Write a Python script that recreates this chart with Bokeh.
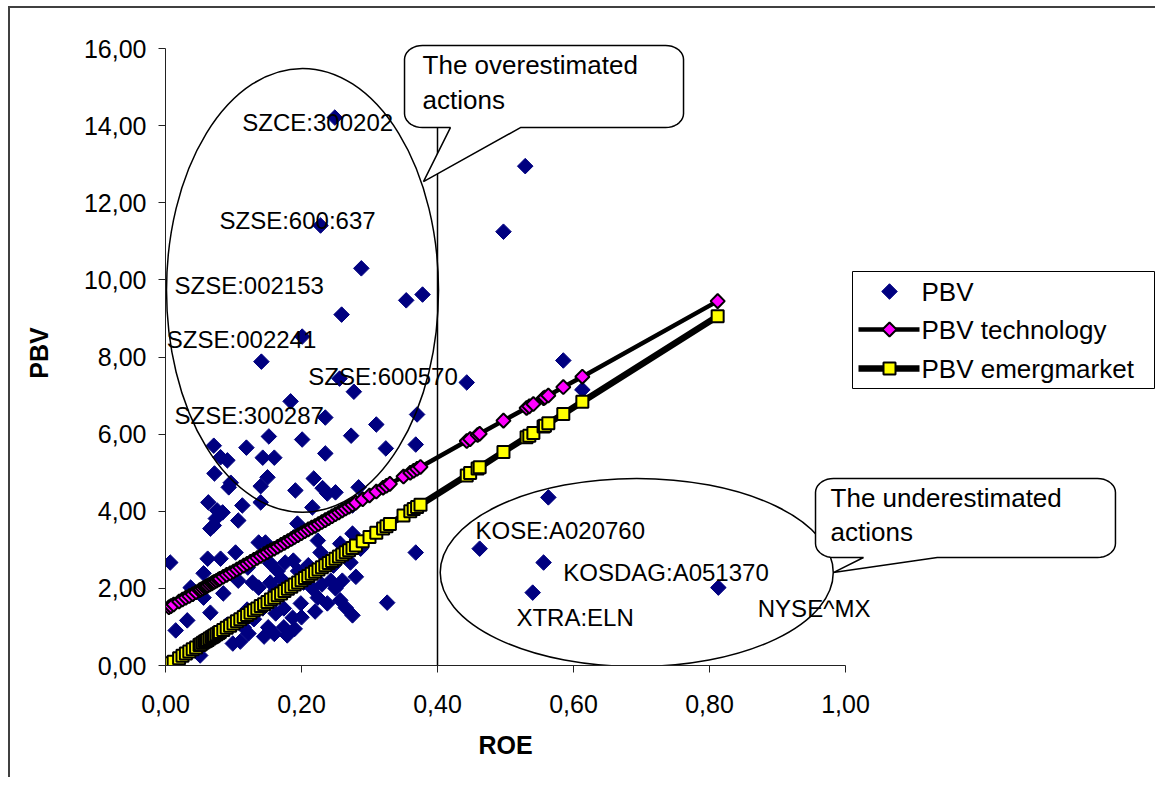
import numpy as np
from bokeh.plotting import figure
from bokeh.models import (Range1d, FixedTicker, CustomJSTickFormatter, Label,
                          PolyAnnotation, Title)
from bokeh.embed import file_html
from bokeh.resources import INLINE

FONT = "Liberation Sans"

# ---------------- data ----------------
roe = [0.249, 0.529, 0.228, 0.497, 0.288, 0.354, 0.378, 0.259, 0.201, 0.141,
       0.585, 0.256, 0.443, 0.277, 0.184, 0.370, 0.235, 0.310, 0.273, 0.368,
       0.324, 0.201, 0.152, 0.119, 0.071, 0.081, 0.091, 0.143, 0.160, 0.235,
       0.072, 0.096, 0.150, 0.140, 0.218, 0.231, 0.250, 0.191, 0.284, 0.063,
       0.076, 0.084, 0.074, 0.071, 0.113, 0.107, 0.140, 0.093, 0.194, 0.216,
       0.238, 0.275, 0.137, 0.147, 0.103, 0.062, 0.081, 0.056, 0.121, 0.154,
       0.176, 0.188, 0.188, 0.224, 0.228, 0.257, 0.257, 0.247, 0.272, 0.275,
       0.287, 0.269, 0.037, 0.041, 0.015, 0.032, 0.056, 0.085, 0.066, 0.107,
       0.128, 0.137, 0.154, 0.162, 0.143, 0.162, 0.174, 0.187, 0.151, 0.174,
       0.179, 0.115, 0.122, 0.106, 0.099, 0.056, 0.047, 0.051, 0.199, 0.224,
       0.238, 0.257, 0.275, 0.265, 0.243, 0.216, 0.203, 0.368, 0.326, 0.563,
       0.462, 0.556, 0.540, 0.813, 0.613, 0.007, 0.066, 0.090, 0.120, 0.130,
       0.165, 0.195, 0.210, 0.220, 0.200, 0.190, 0.160, 0.145, 0.110, 0.170,
       0.230, 0.250, 0.260, 0.280]
pbv = [14.21, 12.95, 11.41, 11.25, 10.30, 9.47, 9.62, 9.10, 8.53, 7.88,
       7.91, 7.44, 7.34, 7.10, 6.85, 6.51, 6.43, 6.25, 5.96, 5.73,
       5.63, 5.86, 5.94, 5.65, 5.70, 5.40, 5.32, 5.39, 5.39, 5.50,
       4.98, 4.74, 4.88, 4.65, 4.85, 4.60, 4.49, 4.54, 4.62, 4.23,
       4.02, 3.97, 3.81, 3.63, 4.15, 3.76, 4.23, 4.62, 3.68, 4.10,
       4.46, 4.15, 3.19, 3.19, 2.93, 2.77, 2.77, 2.39, 2.54, 2.65,
       2.67, 2.72, 3.32, 3.24, 2.93, 2.93, 3.16, 2.59, 2.67, 3.42,
       3.03, 2.93, 2.02, 1.87, 0.91, 1.17, 1.76, 1.87, 1.37, 2.20,
       2.15, 2.02, 2.15, 1.95, 1.48, 1.35, 1.48, 1.24, 0.99, 0.99,
       0.78, 0.99, 0.83, 1.17, 0.57, 0.65, 0.47, 0.26, 1.61, 1.76,
       1.61, 1.69, 1.30, 1.50, 2.20, 2.00, 2.15, 2.93, 1.63, 4.36,
       3.03, 2.67, 1.89, 2.02, 7.15, 2.67, 3.55, 1.05, 1.45, 1.20,
       2.45, 2.45, 2.60, 1.40, 1.25, 0.95, 0.82, 0.75, 0.62, 2.25,
       2.10, 2.00, 2.20, 2.30]

line_roe = [0.005, 0.008, 0.012, 0.020, 0.025, 0.030, 0.035, 0.040, 0.045, 0.050,
            0.052, 0.055, 0.058, 0.060, 0.062, 0.065, 0.068, 0.070, 0.072, 0.075,
            0.078, 0.080, 0.085, 0.090, 0.095, 0.100, 0.105, 0.110, 0.115, 0.120,
            0.125, 0.130, 0.135, 0.140, 0.145, 0.150, 0.155, 0.160, 0.165, 0.170,
            0.175, 0.180, 0.185, 0.190, 0.195, 0.200, 0.205, 0.210, 0.215, 0.220,
            0.225, 0.230, 0.235, 0.240, 0.245, 0.250, 0.255, 0.260, 0.265, 0.270,
            0.275, 0.280, 0.290, 0.300, 0.310, 0.320, 0.325, 0.330, 0.350, 0.360,
            0.365, 0.370, 0.375, 0.443, 0.448, 0.459, 0.462, 0.497, 0.531, 0.535,
            0.541, 0.556, 0.558, 0.563, 0.585, 0.613, 0.812]
pbv_technology = [1.51, 1.54, 1.58, 1.66, 1.71, 1.76, 1.80, 1.85, 1.90, 1.95,
                  1.97, 2.00, 2.03, 2.05, 2.07, 2.10, 2.13, 2.15, 2.17, 2.20,
                  2.23, 2.25, 2.30, 2.35, 2.39, 2.44, 2.49, 2.54, 2.59, 2.64,
                  2.69, 2.74, 2.79, 2.84, 2.89, 2.94, 2.99, 3.03, 3.08, 3.13,
                  3.18, 3.23, 3.28, 3.33, 3.38, 3.43, 3.48, 3.53, 3.58, 3.62,
                  3.67, 3.72, 3.77, 3.82, 3.87, 3.92, 3.97, 4.02, 4.07, 4.12,
                  4.17, 4.22, 4.31, 4.41, 4.51, 4.61, 4.66, 4.71, 4.90, 5.00,
                  5.05, 5.10, 5.15, 5.82, 5.87, 5.98, 6.01, 6.35, 6.68, 6.72,
                  6.78, 6.93, 6.95, 7.00, 7.22, 7.49, 9.45]
pbv_emergmarket = [0.03, 0.06, 0.10, 0.19, 0.25, 0.31, 0.36, 0.42, 0.47, 0.53,
                   0.55, 0.59, 0.62, 0.64, 0.66, 0.70, 0.73, 0.75, 0.78, 0.81,
                   0.84, 0.87, 0.92, 0.98, 1.03, 1.09, 1.15, 1.20, 1.26, 1.31,
                   1.37, 1.43, 1.48, 1.54, 1.59, 1.65, 1.71, 1.76, 1.82, 1.87,
                   1.93, 1.99, 2.04, 2.10, 2.15, 2.21, 2.27, 2.32, 2.38, 2.43,
                   2.49, 2.55, 2.60, 2.66, 2.71, 2.77, 2.83, 2.88, 2.94, 2.99,
                   3.05, 3.11, 3.22, 3.33, 3.44, 3.55, 3.61, 3.67, 3.89, 4.00,
                   4.06, 4.11, 4.17, 4.93, 4.99, 5.11, 5.14, 5.54, 5.92, 5.96,
                   6.03, 6.20, 6.22, 6.28, 6.52, 6.84, 9.06]

series_names = ["PBV", "PBV technology", "PBV emergmarket"]
x_ticks = [0.0, 0.2, 0.4, 0.6, 0.8, 1.0]
y_ticks = [0, 2, 4, 6, 8, 10, 12, 14, 16]
roe_threshold = 0.40

point_labels = ["SZCE:300202", "SZSE:600:637", "SZSE:002153", "SZSE:002241",
                "SZSE:600570", "SZSE:300287", "KOSE:A020760", "KOSDAG:A051370",
                "XTRA:ELN", "NYSE^MX"]
callout_texts = [["The overestimated", "actions"], ["The underestimated", "actions"]]

# ---------------- layout / placement of annotations ----------------
PX_X = 680.0    # pixels per ROE unit
PX_Y = 38.56    # pixels per PBV unit
FRAME_W = 990
FRAME_H = 625
FRAME_LEFT = 165   # page pixel of ROE = 0
FRAME_BOTTOM = 665  # page pixel of PBV = 0
TEXT_SHIFT = 9 / PX_Y  # raise labels so their caps sit where intended


def dx(px):
    """page pixel column -> ROE units (for annotation placement)"""
    return (px - FRAME_LEFT) / PX_X


def dy(py):
    """page pixel row -> PBV units (for annotation placement)"""
    return (FRAME_BOTTOM - py) / PX_Y


label_pos = [(0.113, 13.86), (0.0794, 11.32), (0.0132, 9.63), (0.002, 8.22),
             (0.210, 7.25), (0.0132, 6.25), (0.456, 3.28), (0.585, 2.19),
             (0.516, 1.01), (0.871, 1.245)]
ellipses = [dict(x=0.2015, y=9.73, w=0.40, h=11.51),
            dict(x=0.693, y=2.41, w=0.578, h=4.88)]
callouts = [dict(x0=0.3515, x1=0.7618, y0=13.95, y1=16.08, bx0=0.419, bx1=0.522,
                 tx=0.3794, ty=12.55, text_x=0.378, text_y=[15.33, 14.445]),
            dict(x0=0.9559, x1=1.397, y0=2.80, y1=4.85, bx0=1.0265, bx1=1.135,
                 tx=0.982, ty=2.41, text_x=0.978, text_y=[4.10, 3.24])]

p = figure(frame_width=FRAME_W, frame_height=FRAME_H,
           min_border_left=155, min_border_top=32, min_border_bottom=112,
           min_border_right=0,
           x_range=Range1d(0, FRAME_W / PX_X), y_range=Range1d(0, FRAME_H / PX_Y),
           output_backend="svg", toolbar_location=None,
           background_fill_color="white", border_fill_color="white",
           outline_line_color=None)
p.styles = {"margin-left": "8px", "margin-top": "6px",
            "border-left": "2px solid #404040", "border-top": "2px solid #404040"}
p.grid.visible = False

fmt = CustomJSTickFormatter(code="return tick.toFixed(2).replace('.', ',');")
for ax in (p.xaxis[0], p.yaxis[0]):
    ax.axis_line_color = "#222222"
    ax.axis_line_width = 1
    ax.major_tick_line_color = "#222222"
    ax.minor_tick_line_color = None
    ax.major_tick_in = 0
    ax.major_tick_out = 7
    ax.major_label_text_font = FONT
    ax.major_label_text_font_size = "25px"
    ax.major_label_text_color = "black"
    ax.axis_label_text_font = FONT
    ax.axis_label_text_font_size = "25px"
    ax.axis_label_text_font_style = "bold"
    ax.axis_label_text_color = "black"
    ax.formatter = fmt
p.xaxis.ticker = FixedTicker(ticks=x_ticks)
p.yaxis.ticker = FixedTicker(ticks=y_ticks)
p.xaxis.bounds = (x_ticks[0], x_ticks[-1])
p.yaxis.bounds = (y_ticks[0], y_ticks[-1])
p.yaxis.axis_label = "PBV"
p.xaxis.major_label_standoff = 22
p.yaxis.major_label_standoff = 12
p.yaxis.axis_label_standoff = 28
# a tiny blank x-axis label only reserves a little room above the "ROE" title
p.xaxis.axis_label = " "
p.xaxis.axis_label_text_font_size = "6px"
p.xaxis.axis_label_standoff = 0

# x-axis title centred under the 0..1 axis (the frame is wider than the axis)
p.add_layout(Title(text="ROE", align="left", offset=313, vertical_align="bottom",
                   standoff=8, text_font=FONT, text_font_size="25px",
                   text_font_style="bold", text_color="black"), "below")

# reference line
p.segment(x0=[roe_threshold], y0=[0], x1=[roe_threshold], y1=[14],
          line_color="black", line_width=1.5)

pbv_style = dict(marker="square", angle=np.pi / 4, size=11,
                 fill_color="#000080", line_color="#000080")
tech_line_style = dict(line_color="black", line_width=4.5)
tech_mark_style = dict(marker="square", angle=np.pi / 4, size=10,
                       fill_color="#FF00FF", line_color="black", line_width=2)
em_line_style = dict(line_color="black", line_width=6.5)
em_mark_style = dict(marker="square", size=12, fill_color="#FFFF00",
                     line_color="black", line_width=2)

p.scatter(roe, pbv, **pbv_style)
p.line(line_roe, pbv_technology, **tech_line_style)
p.scatter(line_roe, pbv_technology, **tech_mark_style)
p.line(line_roe, pbv_emergmarket, **em_line_style)
p.scatter(line_roe, pbv_emergmarket, **em_mark_style)

for e in ellipses:
    p.ellipse(x=[e["x"]], y=[e["y"]], width=e["w"], height=e["h"],
              fill_color=None, line_color="black", line_width=1.5)

# ---------------- legend (drawn by hand so the diamonds keep their shape) ----------------
leg_left, leg_right, leg_top, leg_bottom = 852, 1154, 271, 388
row_py = [291, 329, 368]
key_x0, key_x1, key_mid, text_px = 858, 919, 889, 921
p.quad(left=[dx(leg_left)], right=[dx(leg_right)], top=[dy(leg_top)],
       bottom=[dy(leg_bottom)], fill_color="white", line_color="black", line_width=1)
p.scatter([dx(key_mid)], [dy(row_py[0])], **pbv_style)
p.segment(x0=[dx(key_x0)], y0=[dy(row_py[1])], x1=[dx(key_x1)], y1=[dy(row_py[1])],
          **tech_line_style)
p.scatter([dx(key_mid)], [dy(row_py[1])], **tech_mark_style)
p.segment(x0=[dx(key_x0)], y0=[dy(row_py[2])], x1=[dx(key_x1)], y1=[dy(row_py[2])],
          **em_line_style)
p.scatter([dx(key_mid)], [dy(row_py[2])], **em_mark_style)
for name, ry in zip(series_names, row_py):
    p.add_layout(Label(x=dx(text_px), y=dy(ry + 9.3) + TEXT_SHIFT, text=name,
                       text_font=FONT, text_font_size="26px", text_color="black",
                       text_align="left", text_baseline="alphabetic"))

for txt, (lx, ly) in zip(point_labels, label_pos):
    p.add_layout(Label(x=lx, y=ly + TEXT_SHIFT, text=txt, text_font=FONT,
                       text_font_size="24px", text_color="black",
                       text_align="left", text_baseline="alphabetic"))


def callout_path(c, rx=18 / PX_X, ry=14 / PX_Y, n=10):
    xs = [c["bx0"], c["tx"], c["bx1"]]
    ys = [c["y0"], c["ty"], c["y0"]]
    corners = [(c["x1"] - rx, c["y0"] + ry, -np.pi / 2, 0),
               (c["x1"] - rx, c["y1"] - ry, 0, np.pi / 2),
               (c["x0"] + rx, c["y1"] - ry, np.pi / 2, np.pi),
               (c["x0"] + rx, c["y0"] + ry, np.pi, 1.5 * np.pi)]
    for cx, cy, a0, a1 in corners:
        for a in np.linspace(a0, a1, n):
            xs.append(float(cx + rx * np.cos(a)))
            ys.append(float(cy + ry * np.sin(a)))
    return xs, ys


for c, lines in zip(callouts, callout_texts):
    xs, ys = callout_path(c)
    p.add_layout(PolyAnnotation(xs=xs, ys=ys, fill_color="white", fill_alpha=1.0,
                                line_color="black", line_alpha=1.0, line_width=1.5))
    for t, ty in zip(lines, c["text_y"]):
        p.add_layout(Label(x=c["text_x"], y=ty + TEXT_SHIFT, text=t, text_font=FONT,
                           text_font_size="26px", text_color="black",
                           text_align="left", text_baseline="alphabetic"))

open("out.html", "w").write(file_html(p, INLINE))
